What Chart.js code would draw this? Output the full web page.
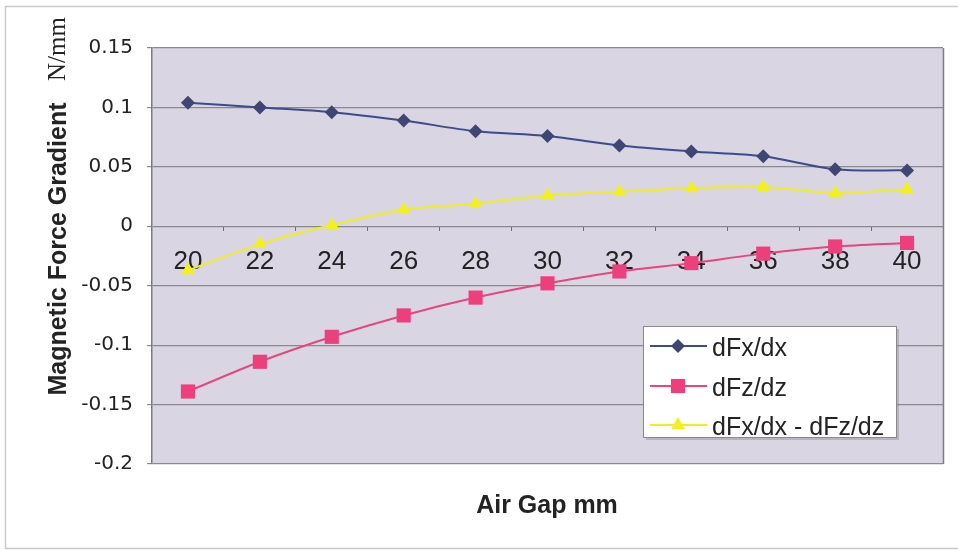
<!DOCTYPE html>
<html>
<head>
<meta charset="utf-8">
<script src="https://cdn.jsdelivr.net/npm/chart.js@4.4.1/dist/chart.umd.min.js"></script>
<style>
  html, body { margin: 0; padding: 0; background: #ffffff; }
  #wrap { width: 958px; height: 550px; position: relative; }
</style>
</head>
<body>
<div id="wrap"><canvas id="c" width="958" height="550"></canvas></div>
<script>
// Air gap (mm) categories
const airGap = ['20', '22', '24', '26', '28', '30', '32', '34', '36', '38', '40'];

// Force gradients, N/mm
const dFxdx = [0.104, 0.100, 0.096, 0.089, 0.080, 0.076, 0.068, 0.063, 0.059, 0.048, 0.047];
const dFzdz = [-0.139, -0.114, -0.093, -0.075, -0.060, -0.048, -0.038, -0.031, -0.023, -0.017, -0.014];
const dFxdxMinusdFzdz = [-0.037, -0.015, 0.001, 0.014, 0.019, 0.026, 0.029, 0.032, 0.033, 0.028, 0.031];

// Value axis ticks
const yTickValues = [0.15, 0.1, 0.05, 0, -0.05, -0.1, -0.15, -0.2];

const seriesNames = ['dFx/dx', 'dFz/dz', 'dFx/dx - dFz/dz'];

const FONT = '"Liberation Sans", Arial, Helvetica, sans-serif';
const WIDE_FONT = '"DejaVu Sans", Verdana, sans-serif';
const SERIF = '"Liberation Serif", "Times New Roman", serif';
const TEXT = '#232323';

const PLOT_BG = '#d9d5e3';
const GRID = '#8a8a8a';

const styles = [
  { line: '#3d4a8e', point: '#3f4673', shape: 'rectRot', radius: 7 },
  { line: '#e6467e', point: '#ec3f7c', shape: 'rect', radius: 10 },
  { line: '#eeee22', point: '#f2f020', shape: 'triangle', radius: 8 }
];

// Plot-area background and outer frame
const frame = {
  id: 'frame',
  beforeDraw(chart) {
    const { ctx, chartArea: a } = chart;
    ctx.save();
    ctx.fillStyle = '#ffffff';
    ctx.fillRect(0, 0, chart.width, chart.height);
    ctx.strokeStyle = '#c9c9c9';
    ctx.lineWidth = 1.5;
    ctx.beginPath();
    ctx.moveTo(chart.width, 6.5);
    ctx.lineTo(5.5, 6.5);
    ctx.lineTo(5.5, 548.5);
    ctx.lineTo(chart.width, 548.5);
    ctx.stroke();
    ctx.fillStyle = PLOT_BG;
    ctx.fillRect(a.left, a.top, a.right - a.left, a.bottom - a.top);
    ctx.restore();
  },
  afterDraw(chart) {
    const { ctx, chartArea: a } = chart;
    ctx.save();
    ctx.strokeStyle = '#7d7d7d';
    ctx.lineWidth = 1.5;
    ctx.beginPath();
    ctx.moveTo(a.right + 0.5, a.top);
    ctx.lineTo(a.right + 0.5, a.bottom);
    ctx.stroke();
    ctx.restore();
  }
};

// Axis titles
const titles = {
  id: 'titles',
  afterDraw(chart) {
    const { ctx } = chart;
    ctx.save();
    ctx.fillStyle = TEXT;
    ctx.textAlign = 'center';
    ctx.textBaseline = 'middle';
    ctx.font = 'bold 25px ' + FONT;
    ctx.fillText('Air Gap mm', 547, 506);
    ctx.restore();

    ctx.save();
    ctx.fillStyle = TEXT;
    ctx.textAlign = 'center';
    ctx.textBaseline = 'alphabetic';
    ctx.font = 'bold 25px ' + FONT;
    ctx.translate(66, 249);
    ctx.rotate(-Math.PI / 2);
    ctx.fillText('Magnetic Force Gradient', 0, 0);
    ctx.restore();

    ctx.save();
    ctx.fillStyle = TEXT;
    ctx.textAlign = 'center';
    ctx.textBaseline = 'alphabetic';
    ctx.font = '25px ' + SERIF;
    ctx.translate(65, 49);
    ctx.rotate(-Math.PI / 2);
    ctx.fillText('N/mm', 0, 0);
    ctx.restore();
  }
};

// Same marker geometry as the chart's point styles
function drawMarker(ctx, shape, x, y, r, color) {
  ctx.fillStyle = color;
  ctx.beginPath();
  if (shape === 'rectRot') {
    ctx.moveTo(x, y - r); ctx.lineTo(x + r, y); ctx.lineTo(x, y + r); ctx.lineTo(x - r, y);
  } else if (shape === 'rect') {
    const s = r * Math.SQRT1_2;
    ctx.rect(x - s, y - s, 2 * s, 2 * s);
  } else {
    const a = 2 * Math.PI / 3;
    ctx.moveTo(x, y - r);
    ctx.lineTo(x + Math.sin(a) * r, y - Math.cos(a) * r);
    ctx.lineTo(x + Math.sin(2 * a) * r, y - Math.cos(2 * a) * r);
  }
  ctx.closePath();
  ctx.fill();
}

// Legend box inside the plot area
const legendBox = {
  id: 'legendBox',
  afterDraw(chart) {
    const { ctx } = chart;
    const x0 = 643, y0 = 326, w = 253, h = 111;
    ctx.save();
    ctx.fillStyle = 'rgba(120,120,130,0.35)';
    ctx.fillRect(x0 + 3, y0 + 3, w, h);
    ctx.fillStyle = '#ffffff';
    ctx.fillRect(x0, y0, w, h);
    ctx.strokeStyle = '#8a8a8a';
    ctx.lineWidth = 1;
    ctx.strokeRect(x0 + 0.5, y0 + 0.5, w, h);
    const rows = [346, 386, 425];
    ctx.font = '25px ' + FONT;
    ctx.textBaseline = 'alphabetic';
    ctx.textAlign = 'left';
    chart.data.datasets.forEach((ds, i) => {
      const st = styles[i];
      const y = rows[i];
      ctx.strokeStyle = st.line;
      ctx.lineWidth = 2;
      ctx.beginPath();
      ctx.moveTo(650, y);
      ctx.lineTo(707, y);
      ctx.stroke();
      drawMarker(ctx, st.shape, 678, y, st.radius, st.point);
      ctx.fillStyle = TEXT;
      ctx.fillText(ds.label, 712, y + 10);
    });
    ctx.restore();
  }
};

const seriesData = [dFxdx, dFzdz, dFxdxMinusdFzdz];

new Chart(document.getElementById('c'), {
  type: 'line',
  data: {
    labels: airGap,
    datasets: seriesData.map((d, i) => ({
      label: seriesNames[i],
      data: d,
      borderColor: styles[i].line,
      backgroundColor: styles[i].point,
      pointBackgroundColor: styles[i].point,
      pointBorderColor: styles[i].point,
      pointStyle: styles[i].shape,
      pointRadius: styles[i].radius,
      pointBorderWidth: 0,
      borderWidth: 2,
      tension: 0.3,
      fill: false
    }))
  },
  options: {
    responsive: false,
    animation: false,
    devicePixelRatio: 1,
    layout: { padding: { left: 0, right: 15, top: 48, bottom: 86 } },
    plugins: {
      legend: { display: false },
      tooltip: { enabled: false },
      title: { display: false }
    },
    scales: {
      x: {
        type: 'category',
        position: { y: 0 },
        offset: true,
        grid: {
          offset: true,
          drawOnChartArea: false,
          drawTicks: true,
          tickLength: 5,
          color: '#6f6f6f'
        },
        border: { display: false },
        ticks: {
          color: TEXT,
          font: { family: FONT, size: 26 },
          padding: 15,
          maxRotation: 0,
          autoSkip: false
        }
      },
      y: {
        min: -0.2,
        max: 0.15,
        afterBuildTicks(scale) {
          scale.ticks = yTickValues.map(v => ({ value: v }));
        },
        afterFit(scale) {
          scale.width = 152;
        },
        grid: {
          color: GRID,
          lineWidth: 1.2,
          drawTicks: true,
          tickLength: 5
        },
        border: { display: true, color: '#7d7d7d', width: 1.5 },
        ticks: {
          color: TEXT,
          font: { family: WIDE_FONT, size: 20 },
          padding: 14,
          callback: v => String(Number(v.toFixed(2)))
        }
      }
    }
  },
  plugins: [frame, titles, legendBox]
});
</script>
</body>
</html>
